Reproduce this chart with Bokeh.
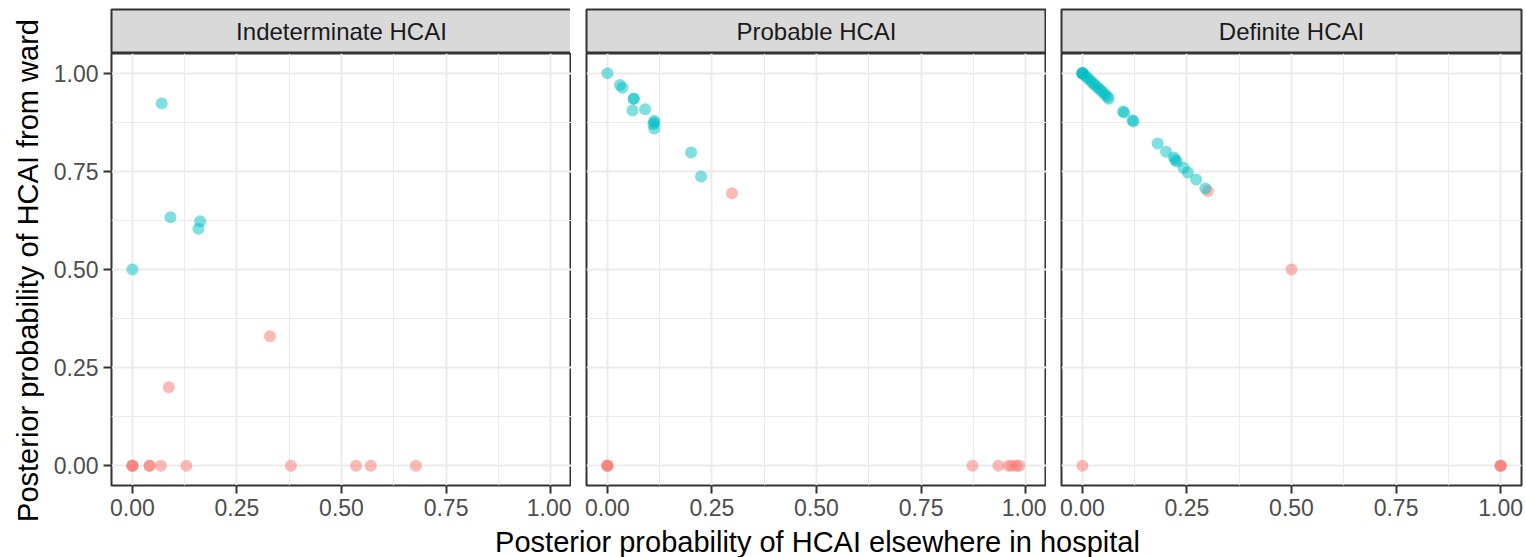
import math
from bokeh.plotting import figure
from bokeh.layouts import row, column
from bokeh.models import FixedTicker, Range1d, Label, NumeralTickFormatter, ColumnDataSource
from bokeh.embed import file_html
from bokeh.resources import INLINE

# ---------------- data ----------------
panels = ["Indeterminate HCAI", "Probable HCAI", "Definite HCAI"]

# Indeterminate HCAI
ind_ward_x = [0.070, 0.091, 0.162, 0.158, 0.000]
ind_ward_y = [0.923, 0.633, 0.623, 0.604, 0.500]
ind_else_x = [0.329, 0.087, 0.000, 0.000, 0.000, 0.041, 0.041, 0.068, 0.129, 0.379, 0.535, 0.570, 0.678]
ind_else_y = [0.330, 0.200, 0.000, 0.000, 0.000, 0.000, 0.000, 0.000, 0.000, 0.000, 0.000, 0.000, 0.000]

# Probable HCAI
prob_ward_x = [0.000, 0.030, 0.036, 0.063, 0.063, 0.060, 0.090, 0.112, 0.112, 0.110, 0.112, 0.200, 0.224]
prob_ward_y = [1.000, 0.970, 0.963, 0.935, 0.935, 0.905, 0.908, 0.874, 0.878, 0.870, 0.859, 0.798, 0.737]
prob_else_x = [0.298, 0.000, 0.000, 0.000, 0.873, 0.935, 0.959, 0.967, 0.978, 0.985]
prob_else_y = [0.694, 0.000, 0.000, 0.000, 0.000, 0.000, 0.000, 0.000, 0.000, 0.000]

# Definite HCAI
def_ward_x = [0.000, 0.000, 0.000, 0.000, 0.005, 0.010, 0.015, 0.020, 0.025, 0.030, 0.035,
              0.040, 0.045, 0.050, 0.055, 0.060, 0.063, 0.097, 0.100, 0.120, 0.122,
              0.180, 0.200, 0.219, 0.222, 0.226, 0.242, 0.252, 0.272, 0.294]
def_ward_y = [1.000, 1.000, 1.000, 1.000, 0.995, 0.990, 0.985, 0.980, 0.975, 0.970, 0.965,
              0.960, 0.955, 0.950, 0.945, 0.940, 0.935, 0.902, 0.900, 0.880, 0.877,
              0.821, 0.800, 0.785, 0.779, 0.775, 0.759, 0.747, 0.729, 0.706]
def_else_x = [0.300, 0.500, 0.000, 1.000, 1.000, 1.000]
def_else_y = [0.700, 0.500, 0.000, 0.000, 0.000, 0.000]

ward_x = [ind_ward_x, prob_ward_x, def_ward_x]
ward_y = [ind_ward_y, prob_ward_y, def_ward_y]
else_x = [ind_else_x, prob_else_x, def_else_x]
else_y = [ind_else_y, prob_else_y, def_else_y]

tick_values = [0, 0.25, 0.5, 0.75, 1.0]
minor_values = [0.125, 0.375, 0.625, 0.875]

x_title = "Posterior probability of HCAI elsewhere in hospital"
y_title = "Posterior probability of HCAI from ward"

# ---------------- styling ----------------
FONT = "Liberation Sans"
RED = "#F8766D"
TEAL = "#00BFC4"
BORDER = "#333333"
FRAME_W = 460
FRAME_H = 432
STRIP_H = 44
TOP = 9
AXIS_B = 38
ROW_H = TOP + STRIP_H + FRAME_H + AXIS_B
TOTAL_W, TOTAL_H = 1526, 557
YT_W = 50
lefts = [60, 15, 15]
rights = [0, 0, 6]

cols = []
for i, name in enumerate(panels):
    # facet strip
    s = figure(frame_width=FRAME_W, frame_height=STRIP_H, x_range=Range1d(0, 1), y_range=Range1d(0, 1),
               toolbar_location=None, output_backend="svg", min_border=0)
    s.min_border_left = lefts[i]
    s.min_border_right = rights[i]
    s.min_border_top = TOP
    s.min_border_bottom = 0
    s.axis.visible = False
    s.grid.visible = False
    s.background_fill_color = "#D9D9D9"
    s.outline_line_color = BORDER
    s.outline_line_width = 2
    s.add_layout(Label(x=0.5, y=0.5, text=name, text_align="center", text_baseline="middle",
                       text_font=FONT, text_font_size="24px", text_color="#1A1A1A"))

    p = figure(frame_width=FRAME_W, frame_height=FRAME_H, x_range=Range1d(-0.05, 1.05),
               y_range=Range1d(-0.05, 1.05), toolbar_location=None, output_backend="svg", min_border=0)
    p.min_border_left = lefts[i]
    p.min_border_right = rights[i]
    p.min_border_top = 0
    p.min_border_bottom = AXIS_B
    p.outline_line_color = BORDER
    p.outline_line_width = 2

    ticker = FixedTicker(ticks=tick_values, minor_ticks=minor_values)
    for ax in (p.xaxis[0], p.yaxis[0]):
        ax.ticker = ticker
        ax.formatter = NumeralTickFormatter(format="0.00")
        ax.axis_line_color = None
        ax.major_tick_line_color = BORDER
        ax.major_tick_line_width = 2
        ax.major_tick_out = 8
        ax.major_tick_in = 0
        ax.minor_tick_line_color = None
        ax.major_label_text_font = FONT
        ax.major_label_text_font_size = "23px"
        ax.major_label_text_color = "#4D4D4D"
    p.xaxis.major_label_standoff = 5
    p.xaxis.axis_label_standoff = 0
    p.yaxis.major_label_standoff = 5
    if i != 0:
        p.yaxis.visible = False

    for g in p.grid:
        g.ticker = ticker
        g.grid_line_color = "#EBEBEB"
        g.grid_line_width = 2
        g.minor_grid_line_color = "#EBEBEB"
        g.minor_grid_line_width = 1

    src_else = ColumnDataSource(dict(x=else_x[i], y=else_y[i]))
    src_ward = ColumnDataSource(dict(x=ward_x[i], y=ward_y[i]))
    p.scatter("x", "y", source=src_else, size=12, fill_color=RED, fill_alpha=0.5, line_color=None)
    p.scatter("x", "y", source=src_ward, size=12, fill_color=TEAL, fill_alpha=0.5, line_color=None)

    cols.append(column(s, p, spacing=0))

# y axis title (shared)
yt = figure(frame_width=YT_W, frame_height=ROW_H, x_range=Range1d(0, YT_W), y_range=Range1d(0, ROW_H),
            toolbar_location=None, output_backend="svg", min_border=0)
yt.axis.visible = False
yt.grid.visible = False
yt.outline_line_color = None
yt.add_layout(Label(x=27, y=ROW_H - 270, text=y_title, angle=math.pi / 2, text_align="center",
                    text_baseline="alphabetic", text_font=FONT, text_font_size="29px", text_color="black"))

# x axis title (shared)
XT_H = TOTAL_H - ROW_H
xt = figure(frame_width=TOTAL_W, frame_height=XT_H, x_range=Range1d(0, TOTAL_W), y_range=Range1d(0, XT_H),
            toolbar_location=None, output_backend="svg", min_border=0)
xt.axis.visible = False
xt.grid.visible = False
xt.outline_line_color = None
xt.add_layout(Label(x=817, y=XT_H - (541 - ROW_H), text=x_title, text_align="center",
                    text_baseline="alphabetic", text_font=FONT, text_font_size="29px", text_color="black"))

layout = column(row(yt, *cols, spacing=0), xt, spacing=0)
open("out.html", "w").write(file_html(layout, INLINE))
